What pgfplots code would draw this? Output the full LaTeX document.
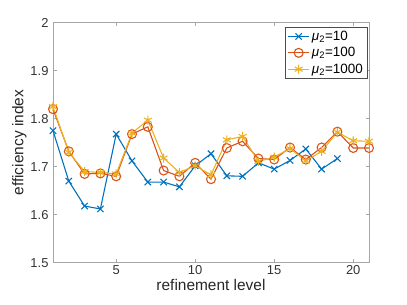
\documentclass[border=0pt]{standalone}
\usepackage{pgfplots}
\pgfplotsset{compat=1.18}
\usetikzlibrary{calc}
\usepackage{fontspec}
\setmainfont{Liberation Sans}
\definecolor{mblue}{rgb}{0,0.447,0.741}
\definecolor{mred}{rgb}{0.85,0.325,0.098}
\definecolor{myel}{rgb}{0.929,0.694,0.125}
\definecolor{axgray}{gray}{0.65}
\begin{document}
\begin{tikzpicture}
\begin{axis}[
  scale only axis, width=316bp, height=240bp,
  xmin=1, xmax=21, ymin=1.5, ymax=2,
  xtick={5,10,15,20}, ytick={1.5,1.6,1.7,1.8,1.9,2},
  yticklabels={1.5,1.6,1.7,1.8,1.9,2},
  tick align=inside, tick pos=both,
  major tick length=3.5bp,
  axis line style={axgray, line width=0.7pt},
  tick style={axgray, line width=0.7pt},
  ticklabel style={font=\fontsize{13}{15}\selectfont, text=black!80},
  xticklabel style={yshift=1bp},
  yticklabel style={xshift=-1bp},
  /pgf/number format/assume math mode=true,
  xlabel={refinement level}, ylabel={efficiency index},
  label style={font=\fontsize{15.5}{17}\selectfont, text=black!85},
  xlabel style={yshift=2bp},
  ylabel style={yshift=-3bp},
  legend style={at={(rel axis cs:0.994,0.983)}, anchor=north east, draw=black!70, line width=0.5pt,
    font=\fontsize{13.5}{15}\selectfont, row sep=1.5bp, inner sep=2bp, inner xsep=2bp},
  legend cell align=left,
  legend image code/.code={
    \draw[mark repeat=2,mark phase=2] plot coordinates {(0cm,0cm) (0.38cm,0cm) (0.76cm,0cm)};},
  every axis plot/.append style={line width=1.1pt},
]
\addplot[mblue, mark=x, mark size=4.5pt] coordinates {
(1,1.775)(2,1.670)(3,1.618)(4,1.612)(5,1.768)(6,1.712)(7,1.668)(8,1.668)(9,1.658)(10,1.702)
(11,1.727)(12,1.681)(13,1.680)(14,1.708)(15,1.695)(16,1.713)(17,1.737)(18,1.695)(19,1.717)};
\addlegendentry{\textit{μ}\textsubscript{2}=10}
\addplot[mred, mark=o, mark size=4.5pt] coordinates {
(1,1.820)(2,1.732)(3,1.685)(4,1.686)(5,1.680)(6,1.768)(7,1.783)(8,1.692)(9,1.680)(10,1.708)
(11,1.674)(12,1.739)(13,1.753)(14,1.717)(15,1.715)(16,1.740)(17,1.715)(18,1.740)(19,1.773)(20,1.739)(21,1.739)};
\addlegendentry{\textit{μ}\textsubscript{2}=100}
\addplot[myel, mark=asterisk, mark size=4.5pt] coordinates {
(1,1.825)(2,1.730)(3,1.690)(4,1.688)(5,1.685)(6,1.770)(7,1.797)(8,1.718)(9,1.688)(10,1.702)
(11,1.683)(12,1.756)(13,1.763)(14,1.711)(15,1.720)(16,1.738)(17,1.712)(18,1.732)(19,1.772)(20,1.754)(21,1.753)};
\addlegendentry{\textit{μ}\textsubscript{2}=1000}
\coordinate (ll) at (rel axis cs:0,0);
\coordinate (ur) at (rel axis cs:1,1);
\end{axis}
\pgfresetboundingbox
\path ($(ll)+(-53bp,-42bp)$) rectangle ($(ur)+(38bp,22.7bp)$);
\end{tikzpicture}
\end{document}
